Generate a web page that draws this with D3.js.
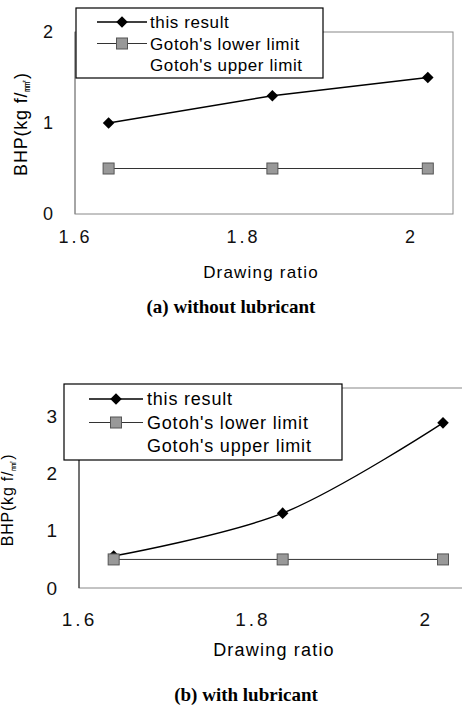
<!DOCTYPE html>
<html>
<head>
<meta charset="utf-8">
<script src="https://cdn.jsdelivr.net/npm/d3@7"></script>
<style>
  body { margin: 0; background: #fff; }
  svg { display: block; }
</style>
</head>
<body>
<div id="chart"></div>
<script>
const drawingRatio = [1.64, 1.835, 2.02];
const resultDry = [1.0, 1.3, 1.5];
const lowerDry = [0.5, 0.5, 0.5];
const resultLub = [0.56, 1.31, 2.89];
const lowerLub = [0.5, 0.5, 0.5];
const xTicks = [1.6, 1.8, 2.0];
const yTicksDry = [0, 1, 2];
const yTicksLub = [0, 1, 2, 3];
const legendLabels = ["this result", "Gotoh's lower limit", "Gotoh's upper limit"];
const xTitle = "Drawing ratio";
const captions = ["(a)  without  lubricant", "(b)  with  lubricant"];

const svg = d3.select("#chart").append("svg").attr("width", 462).attr("height", 708);

const sans = "'Liberation Sans', Arial, sans-serif";

function panel(opt) {
  const x = d3.scaleLinear().domain([1.6, 2.05]).range(opt.xRange);
  const y = d3.scaleLinear().domain(opt.yDomain).range(opt.yRange);
  const g = svg.append("g");

  // plot frame
  g.append("rect")
    .attr("x", opt.xRange[0]).attr("y", opt.yRange[1])
    .attr("width", opt.xRange[1] - opt.xRange[0])
    .attr("height", opt.yRange[0] - opt.yRange[1])
    .attr("fill", "none").attr("stroke", "#888").attr("stroke-width", 1);
  g.append("line")
    .attr("x1", opt.xRange[0]).attr("x2", opt.xRange[0])
    .attr("y1", opt.yRange[1]).attr("y2", opt.yRange[0])
    .attr("stroke", opt.leftColor);

  g.append("g")
    .attr("transform", `translate(0,${opt.yRange[0]})`)
    .call(d3.axisBottom(x).tickValues(xTicks).tickSize(0).tickPadding(opt.xPad).tickFormat(d3.format("~g")))
    .call((a) => a.select(".domain").remove())
    .selectAll("text")
    .style("font-family", sans).style("font-size", opt.fs + "px")
    .style("letter-spacing", "3px").attr("fill", "#111");

  g.append("g")
    .attr("transform", `translate(${opt.xRange[0]},0)`)
    .call(d3.axisLeft(y).tickValues(opt.yTicks).tickSize(0).tickPadding(opt.yPad).tickFormat(d3.format("~g")))
    .call((a) => a.select(".domain").remove())
    .selectAll("text")
    .style("font-family", sans).style("font-size", opt.fs + "px").attr("fill", "#111");

  g.append("text")
    .attr("x", opt.xTitle[0]).attr("y", opt.xTitle[1])
    .attr("text-anchor", "middle")
    .style("font-family", sans).style("font-size", (opt.fs - 1) + "px")
    .style("letter-spacing", "1.2px")
    .text(xTitle);

  const yl = g.append("text")
    .attr("transform", `translate(${opt.yTitle[0]},${opt.yTitle[1]}) rotate(-90)`)
    .attr("text-anchor", "middle")
    .style("font-family", sans).style("font-size", opt.yfs + "px")
    .style("letter-spacing", "0.8px");
  yl.append("tspan").text("BHP(kg f/");
  yl.append("tspan").style("font-size", (opt.yfs - 6) + "px").attr("dy", 3).text("㎟");
  yl.append("tspan").attr("dy", -3).text(")");

  g.append("text")
    .attr("x", opt.caption[0]).attr("y", opt.caption[1])
    .attr("text-anchor", "middle")
    .style("font-family", "'Liberation Serif', 'Times New Roman', serif")
    .style("font-weight", "bold").style("font-size", "19px")
    .text(opt.captionText);

  const lowerLine = d3.line().x((d, i) => x(drawingRatio[i])).y((d) => y(d));
  const resultLine = d3.line().x((d, i) => x(drawingRatio[i])).y((d) => y(d)).curve(opt.curve);

  g.append("path").datum(opt.lower)
    .attr("d", lowerLine).attr("fill", "none")
    .attr("stroke", "#333").attr("stroke-width", 1);
  g.append("path").datum(opt.result)
    .attr("d", resultLine).attr("fill", "none")
    .attr("stroke", "#000").attr("stroke-width", 1.4);

  const diamond = d3.symbol().type(d3.symbolDiamond2).size(85);
  g.selectAll(".dia").data(opt.result).join("path")
    .attr("transform", (d, i) => `translate(${x(drawingRatio[i])},${y(d)})`)
    .attr("d", diamond).attr("fill", "#000");

  g.selectAll(".sq").data(opt.lower).join("rect")
    .attr("x", (d, i) => x(drawingRatio[i]) - 5.5)
    .attr("y", (d) => y(d) - 5.5)
    .attr("width", 11).attr("height", 11)
    .attr("fill", "#999").attr("stroke", "#555").attr("stroke-width", 1);

  // legend
  const L = opt.legend;
  const lg = g.append("g");
  lg.append("rect")
    .attr("x", L.x).attr("y", L.y).attr("width", L.w).attr("height", L.h)
    .attr("fill", "#fff").attr("stroke", "#000").attr("stroke-width", 1.2);
  legendLabels.forEach((label, i) => {
    const ry = L.y + L.first + i * L.step;
    if (i < 2) {
      lg.append("line")
        .attr("x1", L.lx0).attr("x2", L.lx1).attr("y1", ry).attr("y2", ry)
        .attr("stroke", i === 0 ? "#000" : "#333").attr("stroke-width", i === 0 ? 1.4 : 1);
    }
    const mx = (L.lx0 + L.lx1) / 2;
    if (i === 0) {
      lg.append("path").attr("transform", `translate(${mx},${ry})`).attr("d", diamond).attr("fill", "#000");
    } else if (i === 1) {
      lg.append("rect").attr("x", mx - 5.5).attr("y", ry - 5.5).attr("width", 11).attr("height", 11)
        .attr("fill", "#999").attr("stroke", "#555");
    }
    lg.append("text")
      .attr("x", L.tx).attr("y", ry).attr("dy", "0.36em")
      .style("font-family", sans).style("font-size", L.fs + "px").style("letter-spacing", L.ls + "px")
      .text(label);
  });
}

panel({
  xRange: [75, 453], yDomain: [0, 2], yRange: [214, 32], leftColor: "#888",
  yTicks: yTicksDry, result: resultDry, lower: lowerDry, curve: d3.curveLinear,
  fs: 18, yfs: 18, xPad: 16, yPad: 22,
  xTitle: [261, 278], yTitle: [27, 124], caption: [231, 313], captionText: captions[0],
  legend: { x: 76, y: 8, w: 247, h: 70, first: 14, step: 21.5, lx0: 97, lx1: 147, tx: 150, fs: 17, ls: 0.6 }
});

panel({
  xRange: [79, 469], yDomain: [0, 3.5], yRange: [588, 388], leftColor: "#222",
  yTicks: yTicksLub, result: resultLub, lower: lowerLub, curve: d3.curveCatmullRom,
  fs: 19, yfs: 16, xPad: 25, yPad: 22,
  xTitle: [274, 656], yTitle: [13, 500], caption: [246, 701], captionText: captions[1],
  legend: { x: 64, y: 384, w: 278, h: 76, first: 15, step: 23.5, lx0: 89, lx1: 143, tx: 147, fs: 18, ls: 0.8 }
});
</script>
</body>
</html>
